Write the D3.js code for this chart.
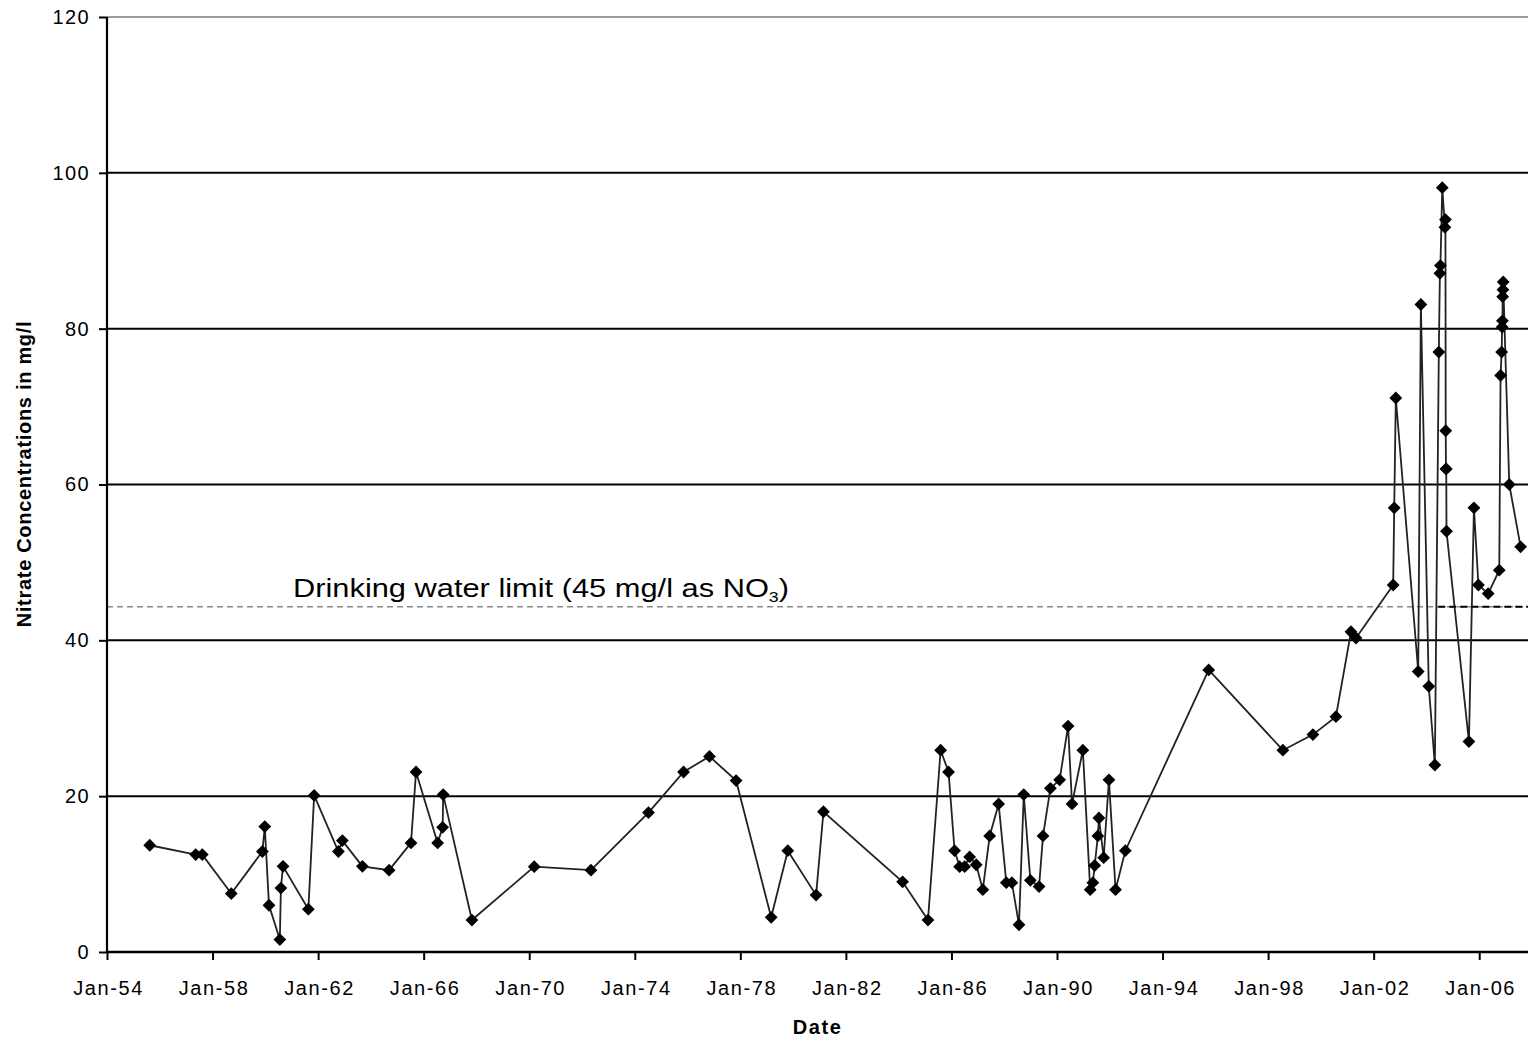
<!DOCTYPE html>
<html>
<head>
<meta charset="utf-8">
<script src="https://cdn.jsdelivr.net/npm/d3@7"></script>
<style>
  body { margin: 0; background: #fff; }
  text { font-family: "Liberation Sans", Arial, sans-serif; fill: #000; }
</style>
</head>
<body>
<div id="vis"></div>
<script>
const svgWidth = 1530,
  svgHeight = 1037,
  plotLeft = 107,
  plotRight = 1528,
  plotTop = 17,
  plotBottom = 952;

// sample dates (decimal years) and nitrate values in mg/l
const sampleYears = [
  1955.62, 1957.36, 1957.61, 1958.71, 1959.89, 1959.98, 1960.14, 1960.55, 1960.59, 1960.67,
  1961.63, 1961.85, 1962.77, 1962.92, 1963.68, 1964.69, 1965.52, 1965.71, 1966.53, 1966.72,
  1966.74, 1967.83, 1970.19, 1972.34, 1974.52, 1975.85, 1976.83, 1977.84, 1979.17, 1979.80,
  1980.87, 1981.15, 1984.15, 1985.11, 1985.59, 1985.89, 1986.12, 1986.31, 1986.50, 1986.69,
  1986.94, 1987.19, 1987.45, 1987.79, 1988.08, 1988.29, 1988.56, 1988.74, 1988.99, 1989.32,
  1989.47, 1989.75, 1990.10, 1990.42, 1990.57, 1990.98, 1991.26, 1991.36, 1991.43, 1991.55,
  1991.59, 1991.77, 1991.97, 1992.22, 1992.59, 1995.75, 1998.56, 1999.70, 2000.57, 2001.14,
  2001.33, 2002.74, 2002.78, 2002.84, 2003.69, 2003.79, 2004.09, 2004.32, 2004.47, 2004.51,
  2004.53, 2004.60, 2004.70, 2004.72, 2004.73, 2004.74, 2004.75, 2004.76, 2005.61, 2005.80,
  2005.97, 2006.34, 2006.76, 2006.81, 2006.85, 2006.87, 2006.88, 2006.89, 2006.90, 2006.91,
  2007.14, 2007.57
];
const nitrate = [
  13.7, 12.5, 12.5, 7.5, 12.9, 16.1, 6.0, 1.6, 8.2, 11.0,
  5.5, 20.1, 12.9, 14.3, 11.0, 10.5, 14.0, 23.1, 14.0, 16.0,
  20.2, 4.1, 10.95, 10.5, 17.9, 23.1, 25.1, 22.0, 4.45, 13.0,
  7.3, 18.0, 9.0, 4.1, 25.9, 23.1, 13.0, 10.95, 10.95, 12.2,
  11.2, 8.0, 14.9, 19.0, 8.9, 8.9, 3.5, 20.2, 9.2, 8.4,
  14.9, 21.0, 22.1, 29.0, 19.0, 25.9, 8.0, 8.9, 11.1, 14.9,
  17.2, 12.1, 22.1, 8.0, 13.0, 36.2, 25.9, 27.9, 30.2, 41.1,
  40.3, 47.1, 57.0, 71.1, 36.0, 83.1, 34.1, 24.0, 77.0, 87.1,
  88.1, 98.1, 93.0, 94.0, 66.9, 62.0, 62.0, 54.0, 27.0, 57.0,
  47.1, 46.0, 49.0, 74.0, 77.0, 80.2, 81.0, 84.1, 85.0, 86.0,
  60.0, 52.0
];

const tickYears = [1954, 1958, 1962, 1966, 1970, 1974, 1978, 1982, 1986, 1990, 1994, 1998, 2002, 2006];
const yTicks = [0, 20, 40, 60, 80, 100, 120];
const limitValue = 44.3;      // drawn level of the limit line
const limitSplitYear = 2004.45; // dashes turn black from here on
const xEndYear = 2007.85;

function toDate(yv) {
  const yr = Math.floor(yv);
  const a = new Date(yr, 0, 1), b = new Date(yr + 1, 0, 1);
  return new Date(+a + (yv - yr) * (b - a));
}

const data = sampleYears.map((d, i) => ({ date: toDate(d), value: nitrate[i] }));

const svg = d3
  .select("#vis")
  .append("svg")
  .attr("width", svgWidth)
  .attr("height", svgHeight);

const x = d3.scaleTime().domain([new Date(1954, 0, 1), toDate(xEndYear)]).range([plotLeft, plotRight]);
const y = d3.scaleLinear().domain([0, 120]).range([plotBottom, plotTop]);

// gridlines
svg
  .append("g")
  .selectAll("line")
  .data(yTicks.filter((d) => d > 0))
  .enter()
  .append("line")
  .attr("x1", plotLeft)
  .attr("x2", plotRight)
  .attr("y1", (d) => y(d))
  .attr("y2", (d) => y(d))
  .attr("stroke", (d) => (d === 120 ? "#7a7a7a" : "#000"))
  .attr("stroke-width", (d) => (d === 120 ? 1.5 : 2));

// limit line (dashed)
svg
  .append("line")
  .attr("x1", plotLeft)
  .attr("x2", plotRight)
  .attr("y1", y(limitValue))
  .attr("y2", y(limitValue))
  .attr("stroke", "#8a8a8a")
  .attr("stroke-width", 1.5)
  .attr("stroke-dasharray", "6,4");

// y axis
const yAxis = svg
  .append("g")
  .attr("transform", `translate(${plotLeft},0)`)
  .call(d3.axisLeft(y).tickValues(yTicks).tickSize(8).tickPadding(9).tickFormat(d3.format("d")));
yAxis.select(".domain").attr("stroke-width", 2.2).attr("d", `M0,${plotBottom}V${plotTop}`);
yAxis.selectAll(".tick line").attr("stroke-width", 2);
yAxis.selectAll("text").attr("font-size", 20).style("letter-spacing", "1.4px");

// x axis
const xAxis = svg
  .append("g")
  .attr("transform", `translate(0,${plotBottom})`)
  .call(
    d3
      .axisBottom(x)
      .tickValues(tickYears.map((d) => new Date(d, 0, 1)))
      .tickSize(8)
      .tickPadding(21)
      .tickFormat(d3.timeFormat("%b-%y"))
  );
xAxis.select(".domain").attr("stroke-width", 2.5).attr("d", `M${plotLeft},0H${plotRight}`);
xAxis.selectAll(".tick line").attr("stroke-width", 2);
xAxis.selectAll("text").attr("font-size", 20).attr("dx", 1).style("letter-spacing", "1.6px");

// data line
const line = d3
  .line()
  .x((d) => x(d.date))
  .y((d) => y(d.value));

svg
  .append("path")
  .datum(data)
  .attr("fill", "none")
  .attr("stroke", "#222")
  .attr("stroke-width", 1.8)
  .attr("d", line);

// black part of the dashed limit line sits on top of the data line
svg
  .append("line")
  .attr("x1", x(toDate(limitSplitYear)))
  .attr("x2", plotRight)
  .attr("y1", y(limitValue))
  .attr("y2", y(limitValue))
  .attr("stroke", "#000")
  .attr("stroke-width", 2)
  .attr("stroke-dasharray", "7,4");

// diamond markers
const diamond = d3.symbol().type(d3.symbolSquare).size(82);
svg
  .append("g")
  .selectAll("path")
  .data(data)
  .enter()
  .append("path")
  .attr("d", diamond)
  .attr("fill", "#000")
  .attr("transform", (d) => `translate(${x(d.date)},${y(d.value)}) rotate(45)`);

// annotation
const note = svg
  .append("text")
  .attr("x", 293)
  .attr("y", 597)
  .attr("font-size", 26)
  .attr("fill", "#222")
  .attr("textLength", 496)
  .attr("lengthAdjust", "spacingAndGlyphs");
note.append("tspan").text("Drinking water limit (45 mg/l as NO");
note.append("tspan").attr("font-size", 15).attr("dy", 5).text("3");
note.append("tspan").attr("dy", -5).text(")");

// axis titles
svg
  .append("text")
  .attr("x", (plotLeft + plotRight) / 2)
  .attr("y", 1034)
  .attr("text-anchor", "middle")
  .attr("font-size", 20)
  .attr("font-weight", "bold")
  .style("letter-spacing", "1.6px")
  .text("Date");

svg
  .append("text")
  .attr("transform", `translate(31,474) rotate(-90)`)
  .attr("text-anchor", "middle")
  .attr("font-size", 20)
  .attr("font-weight", "bold")
  .style("letter-spacing", "0.7px")
  .text("Nitrate Concentrations in mg/l");
</script>
</body>
</html>
